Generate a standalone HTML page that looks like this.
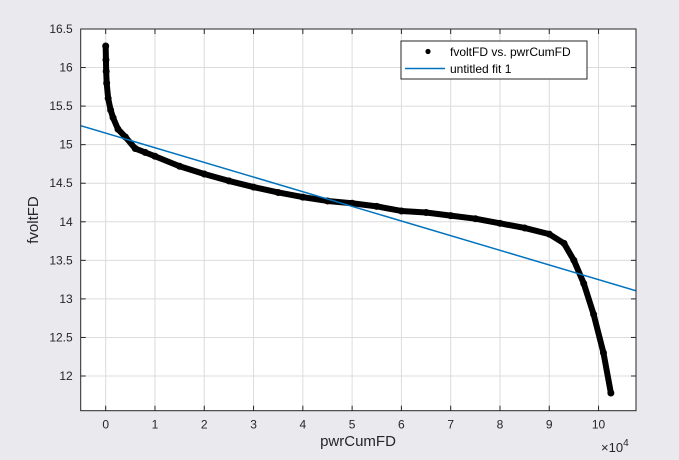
<!DOCTYPE html>
<html><head><meta charset="utf-8"><style>
body{margin:0;background:#eae9ee;}
svg{display:block;font-family:"Liberation Sans",sans-serif;}
</style></head><body>
<svg id="chart" width="679" height="460" xmlns="http://www.w3.org/2000/svg">
<rect width="679" height="460" fill="#eae9ee"/>
<rect x="80.7" y="29" width="555.3" height="381.7" fill="#fff"/>
<g id="grid"></g>
<g id="series"></g>
<rect x="80.7" y="29" width="555.3" height="381.7" fill="none" stroke="#262626" stroke-width="1"/>
<g id="ticks"></g>
<text x="358" y="446" font-size="15" fill="#262626" text-anchor="middle">pwrCumFD</text>
<text transform="translate(38,220) rotate(-90)" font-size="15" fill="#262626" text-anchor="middle">fvoltFD</text>
<text x="601" y="452" font-size="13" fill="#262626">×10<tspan font-size="10" dy="-6">4</tspan></text>
<g>
<rect x="401" y="41" width="186" height="38" fill="#fff" stroke="#262626" stroke-width="1"/>
<circle cx="428" cy="51.5" r="2.6" fill="#000"/>
<text x="450" y="56" font-size="12" fill="#000">fvoltFD vs. pwrCumFD</text>
<line x1="405" y1="68.5" x2="445" y2="68.5" stroke="#0072bd" stroke-width="1.5"/>
<text x="450" y="73" font-size="12" fill="#000">untitled fit 1</text>
</g>
</svg>
<script>
const xData=[0,0.005,0.01,0.02,0.05,0.1,0.15,0.25,0.4,0.6,0.8,1,1.5,2,2.5,3,3.5,4,4.5,5,5.5,6,6.5,7,7.5,8,8.5,9,9.3,9.5,9.7,9.9,10.1,10.25];
const yData=[16.28,16.1,15.95,15.8,15.6,15.45,15.35,15.2,15.1,14.95,14.9,14.85,14.72,14.62,14.53,14.45,14.38,14.32,14.27,14.24,14.2,14.14,14.12,14.08,14.04,13.98,13.92,13.84,13.72,13.5,13.2,12.8,12.3,11.78];
const fitIntercept=[15.15];
const fitSlope=[-0.19];
const xTicks=[0,1,2,3,4,5,6,7,8,9,10];
const yTicks=[12,12.5,13,13.5,14,14.5,15,15.5,16,16.5];
const xMin=-0.507,xMax=10.76,yMin=11.55,yMax=16.5;
const L=80.7,R=636,T=29,B=410.7;
const sx=v=>L+(v-xMin)/(xMax-xMin)*(R-L);
const sy=v=>B-(v-yMin)/(yMax-yMin)*(B-T);
const NS="http://www.w3.org/2000/svg";
function mk(t,a,p){const e=document.createElementNS(NS,t);for(const k in a)e.setAttribute(k,a[k]);p.appendChild(e);return e;}
const grid=document.getElementById('grid'),ticks=document.getElementById('ticks'),ser=document.getElementById('series');
xTicks.forEach(v=>{const x=sx(v);
const g=mk('line',{x1:x,x2:x,y1:T,y2:B,stroke:'#dcdcdc','stroke-width':1},grid);


mk('line',{x1:x,x2:x,y1:B,y2:B-5,stroke:'#262626'},ticks);
mk('line',{x1:x,x2:x,y1:T,y2:T+5,stroke:'#262626'},ticks);
const t=mk('text',{x:x,y:B+18,'font-size':12,fill:'#262626','text-anchor':'middle'},ticks);t.textContent=v;

});
yTicks.forEach(v=>{const y=sy(v);
const g=mk('line',{x1:L,x2:R,y1:y,y2:y,stroke:'#dcdcdc','stroke-width':1},grid);


mk('line',{x1:L,x2:L+5,y1:y,y2:y,stroke:'#262626'},ticks);
mk('line',{x1:R,x2:R-5,y1:y,y2:y,stroke:'#262626'},ticks);
const t=mk('text',{x:L-8,y:y+4,'font-size':12,fill:'#262626','text-anchor':'end'},ticks);t.textContent=v;

});
const pts=xData.map((v,i)=>sx(v)+','+sy(yData[i])).join(' ');
const pl=mk('polyline',{points:pts,fill:'none',stroke:'#000','stroke-width':6,'stroke-linejoin':'round','stroke-linecap':'round'},ser);


xData.forEach((v,i)=>{const c=mk('circle',{cx:sx(v),cy:sy(yData[i]),r:3.5,fill:'#000'},ser);

});
const f=x=>fitIntercept[0]+fitSlope[0]*x;
const fl=mk('line',{x1:sx(xMin),y1:sy(f(xMin)),x2:sx(xMax),y2:sy(f(xMax)),stroke:'#0072bd','stroke-width':1.5},ser);


</script>
</body></html>
